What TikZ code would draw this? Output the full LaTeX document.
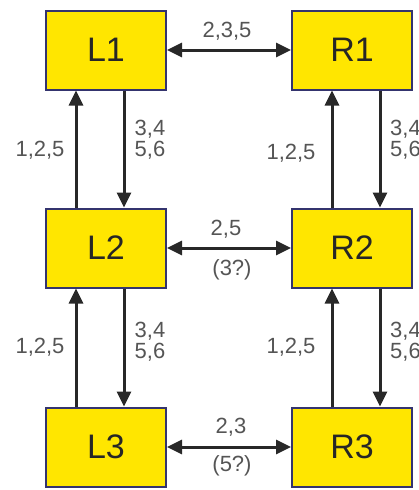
\documentclass[tikz,border=0pt]{standalone}
\usepackage{fontspec}
\setmainfont{Liberation Sans}
\usetikzlibrary{arrows.meta,positioning}

\definecolor{boxyellow}{RGB}{255,230,0}
\definecolor{boxedge}{RGB}{52,52,110}
\definecolor{arrowgray}{RGB}{40,40,40}
\definecolor{labelgray}{RGB}{85,85,85}

\begin{document}
\begin{tikzpicture}[x=1pt,y=-1pt,
  state/.style={draw=boxedge,line width=2pt,fill=boxyellow,
    minimum width=120pt,minimum height=79pt,inner sep=0pt,
    font=\fontsize{34}{34}\selectfont,text=black!85},
  link/.style={line width=3pt,draw=arrowgray,-{Triangle[length=15pt,width=14pt]}},
  both/.style={link,{Triangle[length=15pt,width=14pt]}-{Triangle[length=15pt,width=14pt]}},
  lbl/.style={font=\fontsize{22}{21}\selectfont,text=labelgray,align=left,inner sep=0pt}
]
\useasboundingbox (0,0) rectangle (419,490);

% states
\node[state] (L1) at (106,50) {L1};
\node[state] (R1) at (352,50) {R1};
\node[state] (L2) at (106,248) {L2};
\node[state] (R2) at (352,248) {R2};
\node[state] (L3) at (106,447) {L3};
\node[state] (R3) at (352,447) {R3};

% across
\draw[both] (L1.east) -- (R1.west);
\draw[both] (L2.east) -- (R2.west);
\draw[both] (L3.east) -- (R3.west);
\node[lbl] (l12) at (227,31) {2,3,5};
\node[lbl] (l22) at (226,229) {2,5};
\node[lbl] (l22b) at (232,270) {(3?)};
\node[lbl] (l32) at (231,427) {2,3};
\node[lbl] (l32b) at (232,466) {(5?)};

% up and down, left side
\draw[link] ([xshift=-30pt]L2.north) -- ([xshift=-30pt]L1.south);
\draw[link] ([xshift=18pt]L1.south) -- ([xshift=18pt]L2.north);
\draw[link] ([xshift=-30pt]L3.north) -- ([xshift=-30pt]L2.south);
\draw[link] ([xshift=18pt]L2.south) -- ([xshift=18pt]L3.north);
\node[lbl] (lu1) at (40,150) {1,2,5};
\node[lbl] (ld1) at (150,140) {3,4\\5,6};
\node[lbl] (lu2) at (40,347) {1,2,5};
\node[lbl] (ld2) at (150,342) {3,4\\5,6};

% up and down, right side
\draw[link] ([xshift=-20pt]R2.north) -- ([xshift=-20pt]R1.south);
\draw[link] ([xshift=28pt]R1.south) -- ([xshift=28pt]R2.north);
\draw[link] ([xshift=-20pt]R3.north) -- ([xshift=-20pt]R2.south);
\draw[link] ([xshift=28pt]R2.south) -- ([xshift=28pt]R3.north);
\node[lbl] (ru1) at (291,153) {1,2,5};
\node[lbl,anchor=west] (rd1) at (390,140) {3,4\\5,6};
\node[lbl] (ru2) at (291,347) {1,2,5};
\node[lbl,anchor=west] (rd2) at (390,342) {3,4\\5,6};
\end{tikzpicture}
\end{document}
